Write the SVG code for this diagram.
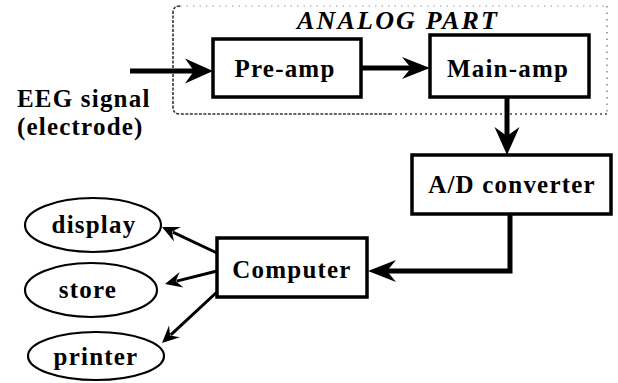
<svg xmlns="http://www.w3.org/2000/svg" width="618" height="383" viewBox="0 0 618 383">
  <style>
    .box { fill: #fff; stroke: #000; stroke-width: 3.5; }
    .oval { fill: #fff; stroke: #000; stroke-width: 2.2; }
    .lbl { font-family: "Liberation Serif", "DejaVu Serif", serif; font-weight: bold; font-size: 25px; letter-spacing: 1.2px; fill: #000; }
    .mid { text-anchor: middle; }
    .title { font-family: "Liberation Serif", "DejaVu Serif", serif; font-weight: bold; font-style: italic; font-size: 26px; letter-spacing: 2.2px; fill: #000; }
    .thick { fill: none; stroke: #000; stroke-width: 5; }
    .thin { fill: none; stroke: #000; stroke-width: 3; }
    .head { fill: #000; stroke: none; }
  </style>

  <!-- analog section outline -->
  <g id="analog-part">
    <path d="M180,6 L607,6" fill="none" stroke="#999" stroke-width="1.2" stroke-dasharray="1.5 5"/>
    <path d="M607,6 L607,114" fill="none" stroke="#666" stroke-width="1.2" stroke-dasharray="1.5 5"/>
    <path d="M180,6 Q173,6 173,13 L173,107 Q173,114 180,114 L390,114" fill="none" stroke="#333" stroke-width="1.6" stroke-dasharray="3 1.5"/>
    <path d="M390,114 L607,114" fill="none" stroke="#444" stroke-width="1.4" stroke-dasharray="2 3"/>
    <text class="title" x="297" y="29">ANALOG PART</text>
  </g>

  <g id="connectors">
    <!-- thick signal path -->
    <path class="thick" d="M130,71 L196,71"/>
    <path class="head" d="M213,71 L185,58.5 L194,71 L185,83.5 Z"/>
    <path class="thick" d="M361,68 L413,68"/>
    <path class="head" d="M430,68 L402,57 L411,68 L402,79 Z"/>
    <path class="thick" d="M507,97 L507,138"/>
    <path class="head" d="M507,155 L494.5,127 L507,136 L519.5,127 Z"/>
    <path class="thick" d="M510,214 L510,271 L385,271"/>
    <path class="head" d="M368,271 L396,260 L387,271 L396,282 Z"/>
    <!-- outputs of the computer -->
    <path class="thin" d="M217,253 L172.8,232.1"/>
    <path class="head" d="M162,227 L180.8,227 L171.9,231.7 L174,241.5 Z"/>
    <path class="thin" d="M217,271 L176.6,281.1"/>
    <path class="head" d="M165,284 L183.4,287.6 L175.7,281.3 L179.6,272.1 Z"/>
    <path class="thin" d="M217,292 L170.8,334.8"/>
    <path class="head" d="M162,343 L179.9,337.3 L170.1,335.5 L169,325.5 Z"/>
  </g>

  <g id="eeg-input">
    <text class="lbl" x="17" y="107">EEG signal</text>
    <text class="lbl" x="17" y="135">(electrode)</text>
  </g>

  <g id="pre-amp">
    <rect class="box" x="213" y="39" width="148" height="58"/>
    <text class="lbl mid" x="285" y="77">Pre-amp</text>
  </g>

  <g id="main-amp">
    <rect class="box" x="430" y="35" width="159" height="62"/>
    <text class="lbl mid" x="508" y="77">Main-amp</text>
  </g>

  <g id="ad-converter">
    <rect class="box" x="412" y="155" width="199" height="59"/>
    <text class="lbl mid" x="512" y="193">A/D converter</text>
  </g>

  <g id="computer">
    <rect class="box" x="217" y="238" width="150" height="59"/>
    <text class="lbl mid" x="292" y="278">Computer</text>
  </g>

  <g id="display">
    <ellipse class="oval" cx="93" cy="225" rx="68" ry="27"/>
    <text class="lbl mid" x="94" y="233">display</text>
  </g>

  <g id="store">
    <ellipse class="oval" cx="91" cy="290" rx="66" ry="27"/>
    <text class="lbl mid" x="88" y="298">store</text>
  </g>

  <g id="printer">
    <ellipse class="oval" cx="96" cy="356" rx="68" ry="24"/>
    <text class="lbl mid" x="96" y="365">printer</text>
  </g>
</svg>
